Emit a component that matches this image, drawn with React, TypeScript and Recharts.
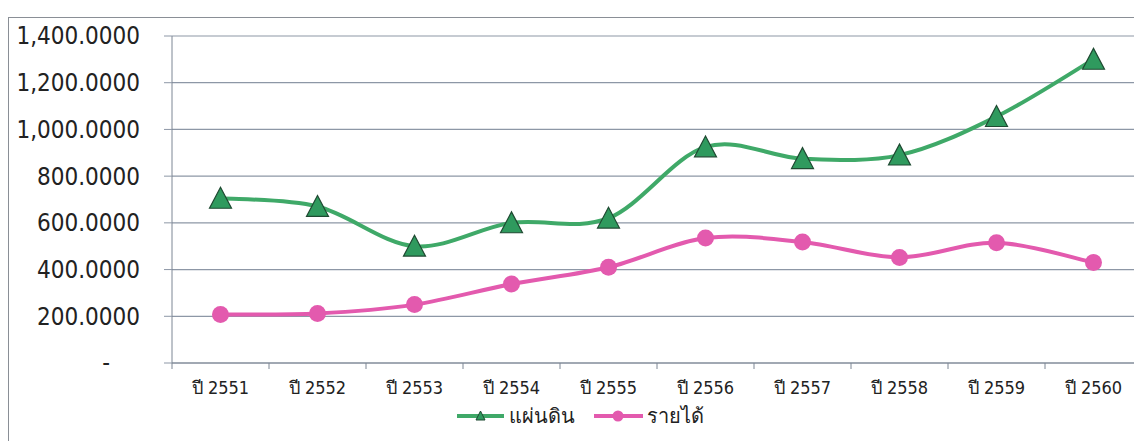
import React from 'react';
import { LineChart, Line, XAxis, YAxis, CartesianGrid, Legend } from 'recharts';

const years = ['ปี 2551', 'ปี 2552', 'ปี 2553', 'ปี 2554', 'ปี 2555', 'ปี 2556', 'ปี 2557', 'ปี 2558', 'ปี 2559', 'ปี 2560'];
const landValues = [705, 670, 500, 600, 620, 925, 875, 890, 1055, 1300];
const incomeValues = [208, 212, 250, 338, 410, 535, 518, 452, 515, 430];
const yTicks = [0, 200, 400, 600, 800, 1000, 1200, 1400];

const data = years.map((y, i) => ({ year: y, land: landValues[i], income: incomeValues[i] }));

const GREEN = '#3fa968';
const GREEN_FILL = '#2f9a5e';
const GREEN_EDGE = '#1f4a32';
const PINK = '#e35aae';
const FONT = '"DejaVu Sans Condensed", "DejaVu Sans", sans-serif';
const TEXT = '#222';

// catmull-rom style smoothing, close to excel's "smoothed line"
const smoothCurve = (context: any) => {
  let pts: number[][] = [];
  return {
    areaStart() {},
    areaEnd() {},
    lineStart() {
      pts = [];
    },
    point(x: number, y: number) {
      pts.push([+x, +y]);
    },
    lineEnd() {
      if (!pts.length) return;
      context.moveTo(pts[0][0], pts[0][1]);
      const k = 1 / 6;
      for (let i = 0; i < pts.length - 1; i++) {
        const p0 = pts[Math.max(0, i - 1)];
        const p1 = pts[i];
        const p2 = pts[i + 1];
        const p3 = pts[Math.min(pts.length - 1, i + 2)];
        context.bezierCurveTo(
          p1[0] + (p2[0] - p0[0]) * k,
          p1[1] + (p2[1] - p0[1]) * k,
          p2[0] - (p3[0] - p1[0]) * k,
          p2[1] - (p3[1] - p1[1]) * k,
          p2[0],
          p2[1]
        );
      }
    },
  };
};

const Triangle = (props: any) => {
  const { cx, cy, key } = props;
  if (cx == null || cy == null) return null;
  const s = 11;
  return (
    <polygon
      key={key}
      points={`${cx},${cy - s} ${cx - s},${cy + s * 0.9} ${cx + s},${cy + s * 0.9}`}
      fill={GREEN_FILL}
      stroke={GREEN_EDGE}
      strokeWidth={1.2}
    />
  );
};

const Circle = (props: any) => {
  const { cx, cy, key } = props;
  if (cx == null || cy == null) return null;
  return <circle key={key} cx={cx} cy={cy} r={8.5} fill={PINK} />;
};

const XTick = (props: any) => {
  const { x, y, payload, width, visibleTicksCount } = props;
  const bw = width / visibleTicksCount;
  return (
    <g>
      <line x1={x - bw / 2} x2={x - bw / 2} y1={y - 18} y2={y - 12} stroke="#7d8694" />
      <text x={x} y={y} dy="0.71em" textAnchor="middle" fontSize={18} fontFamily={FONT} fill={TEXT}>
        {payload.value}
      </text>
    </g>
  );
};

const YTick = (props: any) => {
  const { x, y, payload } = props;
  const v = payload.value;
  if (v === 0) {
    return (
      <text x={x - 30} y={y} dy="0.35em" textAnchor="end" fontSize={24} fontFamily={FONT} fill={TEXT}>
        -
      </text>
    );
  }
  return (
    <text x={x} y={y} dy="0.35em" textAnchor="end" fontSize={24} fontFamily={FONT} fill={TEXT}>
      {v.toLocaleString('en-US', { minimumFractionDigits: 4, maximumFractionDigits: 4 })}
    </text>
  );
};

const LegendContent = () => (
  <div style={{ display: 'flex', alignItems: 'center', fontFamily: FONT, fontSize: 20, color: TEXT }}>
    <svg width={50} height={20}>
      <line x1={1} x2={48} y1={10} y2={10} stroke={GREEN} strokeWidth={4} />
      <polygon points="24.5,5 20,14 29,14" fill={GREEN_FILL} stroke={GREEN_EDGE} strokeWidth={1} />
    </svg>
    <span style={{ marginLeft: 3, marginRight: 18 }}>แผ่นดิน</span>
    <svg width={52} height={20}>
      <line x1={1} x2={50} y1={10} y2={10} stroke={PINK} strokeWidth={4} />
      <circle cx={25} cy={10} r={5.5} fill={PINK} />
    </svg>
    <span style={{ marginLeft: 2 }}>รายได้</span>
  </div>
);

export default function App() {
  return (
    <div style={{ position: 'fixed', left: 0, top: 0, width: 1134, height: 441, overflow: 'hidden', background: '#fff' }}>
      <div
        style={{
          position: 'absolute',
          left: 8,
          top: 17,
          width: 1160,
          height: 460,
          border: '1px solid #8a8f96',
        }}
      />
      <div style={{ position: 'absolute', left: 0, top: 0 }}>
        <LineChart width={1160} height={441} data={data} margin={{ top: 36, right: 18, left: 0, bottom: 16 }}>
          <CartesianGrid vertical={false} stroke="#8d97a6" strokeWidth={1.2} />
          <XAxis
            dataKey="year"
            scale="band"
            interval={0}
            tick={<XTick />}
            tickLine={false}
            tickSize={6}
            tickMargin={12}
            height={30}
            stroke="#7d8694"
          />
          <YAxis
            domain={[0, 1400]}
            ticks={yTicks}
            width={172}
            tickSize={8}
            tickMargin={24}
            tick={<YTick />}
            stroke="#7d8694"
            tickLine={{ stroke: '#8d97a6' }}
          />
          <Legend
            verticalAlign="bottom"
            content={<LegendContent />}
            wrapperStyle={{ left: 456, width: 'auto', top: 400 }}
          />
          <Line
            dataKey="land"
            name="แผ่นดิน"
            type={smoothCurve as any}
            stroke={GREEN}
            strokeWidth={4}
            dot={<Triangle />}
            isAnimationActive={false}
          />
          <Line
            dataKey="income"
            name="รายได้"
            type={smoothCurve as any}
            stroke={PINK}
            strokeWidth={4}
            dot={<Circle />}
            isAnimationActive={false}
          />
        </LineChart>
      </div>
    </div>
  );
}
